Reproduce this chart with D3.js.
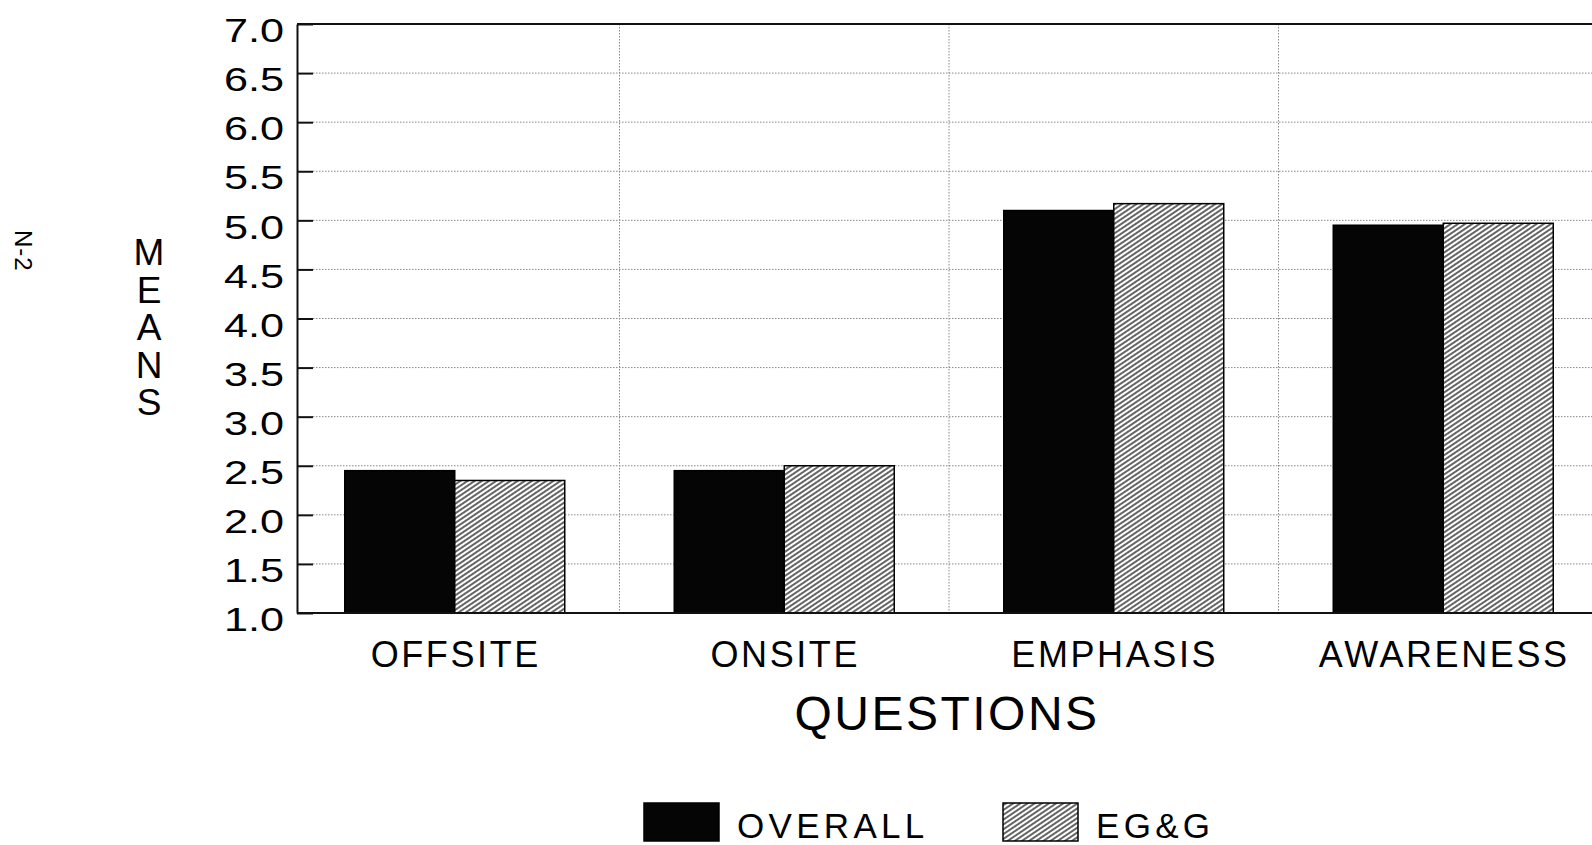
<!DOCTYPE html>
<html>
<head>
<meta charset="utf-8">
<script src="https://cdn.jsdelivr.net/npm/d3@7"></script>
<style>
  html, body { margin: 0; padding: 0; background: #fff; }
  svg { display: block; }
  text { font-family: "Liberation Sans", Arial, Helvetica, sans-serif; fill: #000; }
</style>
</head>
<body>
<svg id="chart" width="1592" height="845"></svg>
<script>
// ---- data ----
const categories = ["OFFSITE", "ONSITE", "EMPHASIS", "AWARENESS"];
const seriesNames = ["OVERALL", "EG&G"];
const overallValues = [2.45, 2.45, 5.10, 4.95];
const eggValues = [2.35, 2.50, 5.17, 4.97];
const yTickValues = [1.0, 1.5, 2.0, 2.5, 3.0, 3.5, 4.0, 4.5, 5.0, 5.5, 6.0, 6.5, 7.0];
const yAxisTitle = "MEANS";
const xAxisTitle = "QUESTIONS";
const pageLabel = "N-2";

// ---- layout ----
const W = 1592, H = 845;
const axisX = 297, plotTop = 24, plotBottom = 613, plotRight = 1608;
const bandLeft = 290;
const barW = 110;

const svg = d3.select("#chart");

const defs = svg.append("defs");
const hatch = defs.append("pattern")
  .attr("id", "hatch")
  .attr("patternUnits", "userSpaceOnUse")
  .attr("width", 8).attr("height", 4)
  .attr("patternTransform", "rotate(-34)");
hatch.append("rect").attr("width", 8).attr("height", 4).attr("fill", "#fff");
hatch.append("line").attr("x1", 0).attr("x2", 8).attr("y1", 2).attr("y2", 2)
  .attr("stroke", "#111").attr("stroke-width", 1.3);

const y = d3.scaleLinear().domain([1, 7]).range([plotBottom, plotTop]);
const x = d3.scaleBand().domain(categories).range([bandLeft, plotRight]).padding(0);
const step = x.bandwidth();
const po = (step / barW - seriesNames.length) / 2;
const xs = d3.scaleBand().domain(seriesNames).range([0, step]).paddingInner(0).paddingOuter(po);

const rows = categories.map((c, i) => ({ cat: c, vals: [
  { s: seriesNames[0], v: overallValues[i] },
  { s: seriesNames[1], v: eggValues[i] }
]}));

// horizontal gridlines
svg.append("g").selectAll("line")
  .data(yTickValues.filter(v => v > 1 && v < 7))
  .join("line")
  .attr("x1", axisX + 16).attr("x2", plotRight)
  .attr("y1", d => y(d)).attr("y2", d => y(d))
  .attr("stroke", "#888").attr("stroke-width", 1).attr("stroke-dasharray", "1.5,1.5");

// vertical gridlines
svg.append("g").selectAll("line")
  .data(categories.slice(1))
  .join("line")
  .attr("x1", d => x(d)).attr("x2", d => x(d))
  .attr("y1", plotTop).attr("y2", plotBottom)
  .attr("stroke", "#888").attr("stroke-width", 1).attr("stroke-dasharray", "1.5,1.5");

// bars
const groups = svg.append("g").selectAll("g")
  .data(rows).join("g")
  .attr("transform", d => `translate(${x(d.cat)},0)`);
groups.selectAll("rect")
  .data(d => d.vals).join("rect")
  .attr("x", d => xs(d.s))
  .attr("width", xs.bandwidth())
  .attr("y", d => y(d.v))
  .attr("height", d => y(1) - y(d.v))
  .attr("fill", d => d.s === seriesNames[0] ? "#050505" : "url(#hatch)")
  .attr("stroke", "#000").attr("stroke-width", 1.5);

// frame: top and bottom lines
svg.append("line").attr("x1", axisX).attr("x2", plotRight).attr("y1", plotTop).attr("y2", plotTop)
  .attr("stroke", "#111").attr("stroke-width", 2);
svg.append("line").attr("x1", axisX).attr("x2", plotRight).attr("y1", plotBottom).attr("y2", plotBottom)
  .attr("stroke", "#111").attr("stroke-width", 2);

// y axis
const sx = 1.27;
const yAxis = d3.axisLeft(y).tickValues(yTickValues).tickFormat(d3.format(".1f"))
  .tickSizeInner(-16).tickSizeOuter(0);
const gy = svg.append("g").attr("transform", `translate(${axisX},0)`).call(yAxis);
gy.select(".domain").attr("stroke", "#111").attr("stroke-width", 2);
gy.selectAll(".tick line").attr("stroke", "#111").attr("stroke-width", 2);
gy.selectAll(".tick text")
  .attr("font-size", 34)
  .attr("font-family", "'Liberation Sans', Arial, sans-serif")
  .attr("fill", "#111")
  .attr("x", -13 / sx)
  .attr("dy", "0.52em")
  .attr("transform", `scale(${sx},1)`);

// category labels
svg.append("g").selectAll("text")
  .data(categories).join("text")
  .attr("x", d => x(d) + step / 2 + 1)
  .attr("y", 667)
  .attr("text-anchor", "middle")
  .attr("font-size", 36)
  .attr("letter-spacing", 2.6)
  .text(d => d);

// x axis title
svg.append("text")
  .attr("x", 947).attr("y", 730)
  .attr("text-anchor", "middle")
  .attr("font-size", 48)
  .attr("letter-spacing", 2.5)
  .text(xAxisTitle);

// y axis title, stacked letters
const yt = svg.append("text")
  .attr("text-anchor", "middle")
  .attr("font-size", 37);
yt.selectAll("tspan")
  .data(yAxisTitle.split(""))
  .join("tspan")
  .attr("x", 149)
  .attr("y", (d, i) => 265 + i * 37.5)
  .text(d => d);

// page label
svg.append("text")
  .attr("transform", "translate(15,230) rotate(90)")
  .attr("font-size", 24)
  .attr("letter-spacing", 1)
  .text(pageLabel);

// legend
const legendX = [644, 1003];
const leg = svg.append("g").selectAll("g")
  .data(seriesNames).join("g")
  .attr("transform", (d, i) => `translate(${legendX[i]},803)`);
leg.append("rect")
  .attr("width", 75).attr("height", 38)
  .attr("fill", (d, i) => i === 0 ? "#050505" : "url(#hatch)")
  .attr("stroke", "#000").attr("stroke-width", 1.5);
leg.append("text")
  .attr("x", 93).attr("y", 35)
  .attr("font-size", 35)
  .attr("letter-spacing", 4.3)
  .text(d => d);
</script>
</body>
</html>
